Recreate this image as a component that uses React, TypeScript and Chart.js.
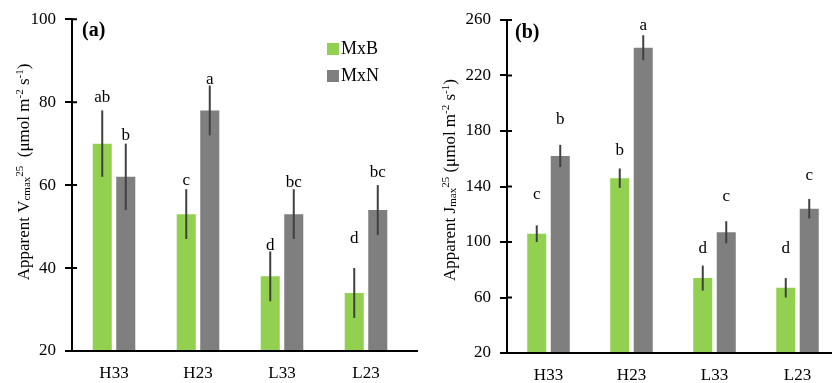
import React, { useEffect, useRef } from "react";
import { Chart, registerables } from "chart.js";

Chart.register(...registerables);

const categories = ["H33", "H23", "L33", "L23"];
const seriesNames = ["MxB", "MxN"];
const seriesColors = ["#92d050", "#7f7f7f"];

const vcmaxMxB = [70, 53, 38, 34];
const vcmaxMxBErr = [8, 6, 6, 6];
const vcmaxMxN = [62, 78, 53, 54];
const vcmaxMxNErr = [8, 6, 6, 6];
const vcmaxMxBLetters = ["ab", "c", "d", "d"];
const vcmaxMxNLetters = ["b", "a", "bc", "bc"];
const vcmaxMxBLetterAt = [81, 61, 45.5, 47];
const vcmaxMxNLetterAt = [72, 85.5, 60.5, 63];
const vcmaxTicks = [20, 40, 60, 80, 100];

const jmaxMxB = [106, 146, 74, 67];
const jmaxMxBErr = [6, 7, 9, 7];
const jmaxMxN = [162, 240, 107, 124];
const jmaxMxNErr = [8, 9, 8, 7];
const jmaxMxBLetters = ["c", "b", "d", "d"];
const jmaxMxNLetters = ["b", "a", "c", "c"];
const jmaxMxBLetterAt = [134, 166, 95, 95.5];
const jmaxMxNLetterAt = [188.5, 256, 133, 148];
const jmaxTicks = [20, 60, 100, 140, 180, 220, 260];

const FONT = "'Liberation Serif', 'Times New Roman', serif";

type Seg = { t: string; k: "n" | "sub" | "sup" };

const vcmaxTitle: Seg[] = [
  { t: "Apparent V", k: "n" },
  { t: "cmax", k: "sub" },
  { t: "25", k: "sup" },
  { t: "  (μmol m", k: "n" },
  { t: "-2", k: "sup" },
  { t: " s", k: "n" },
  { t: "-1", k: "sup" },
  { t: ")", k: "n" },
];
const jmaxTitle: Seg[] = [
  { t: "Apparent J", k: "n" },
  { t: "max", k: "sub" },
  { t: "25", k: "sup" },
  { t: " (μmol m", k: "n" },
  { t: "-2", k: "sup" },
  { t: " s", k: "n" },
  { t: "-1", k: "sup" },
  { t: ")", k: "n" },
];

function drawRotatedTitle(ctx: CanvasRenderingContext2D, segs: Seg[], cx: number, cy: number, size: number) {
  const small = Math.round(size * 0.62);
  ctx.save();
  ctx.translate(cx, cy);
  ctx.rotate(-Math.PI / 2);
  ctx.fillStyle = "#000";
  ctx.textBaseline = "alphabetic";
  ctx.textAlign = "left";
  let total = 0;
  for (const s of segs) {
    ctx.font = `${s.k === "n" ? size : small}px ${FONT}`;
    total += ctx.measureText(s.t).width;
  }
  let x = -total / 2;
  const base = size * 0.33;
  for (const s of segs) {
    ctx.font = `${s.k === "n" ? size : small}px ${FONT}`;
    let y = base;
    if (s.k === "sub") y = base + size * 0.1;
    if (s.k === "sup") y = base - size * 0.33;
    ctx.fillText(s.t, x, y);
    x += ctx.measureText(s.t).width;
  }
  ctx.restore();
}

type PanelProps = {
  left: number;
  mxb: number[];
  mxbErr: number[];
  mxn: number[];
  mxnErr: number[];
  mxbLetters: string[];
  mxnLetters: string[];
  mxbLetterAt: number[];
  mxnLetterAt: number[];
  ticks: number[];
  title: Seg[];
  titleX: number;
  titleY: number;
  axisWidth: number;
  padRight: number;
  padTop: number;
  xHeight: number;
  catPct: number;
  panelLabel: string;
  labelX: number;
  labelY: number;
  axisEnd: number;
  legend: boolean;
};

function Panel(p: PanelProps) {
  const ref = useRef<HTMLCanvasElement | null>(null);
  useEffect(() => {
    if (!ref.current) return;
    const errs = [p.mxbErr, p.mxnErr];
    const letters = [p.mxbLetters, p.mxnLetters];
    const letterAt = [p.mxbLetterAt, p.mxnLetterAt];
    const decor = {
      id: "decor",
      afterDatasetsDraw(chart: any) {
        const ctx: CanvasRenderingContext2D = chart.ctx;
        const ys = chart.scales.y;
        const area = chart.chartArea;
        ctx.save();
        ctx.strokeStyle = "#000";
        ctx.lineWidth = 2;
        // x axis line
        ctx.beginPath();
        ctx.moveTo(area.left - 1, area.bottom);
        ctx.lineTo(p.axisEnd, area.bottom);
        ctx.stroke();
        // inner half of crossing y tick marks
        ctx.beginPath();
        for (const t of p.ticks) {
          const py = ys.getPixelForValue(t);
          ctx.moveTo(area.left, py);
          ctx.lineTo(area.left + 5, py);
        }
        ctx.stroke();
        // error bars and letters
        chart.data.datasets.forEach((ds: any, di: number) => {
          const meta = chart.getDatasetMeta(di);
          meta.data.forEach((el: any, i: number) => {
            const v = ds.data[i];
            const e = errs[di][i];
            ctx.strokeStyle = "#404040";
            ctx.lineWidth = 2;
            ctx.beginPath();
            ctx.moveTo(el.x, ys.getPixelForValue(v + e));
            ctx.lineTo(el.x, ys.getPixelForValue(v - e));
            ctx.stroke();
            ctx.fillStyle = "#000";
            ctx.font = `17px ${FONT}`;
            ctx.textAlign = "center";
            ctx.textBaseline = "middle";
            ctx.fillText(letters[di][i], el.x, ys.getPixelForValue(letterAt[di][i]));
          });
        });
        // panel label
        ctx.font = `bold 20px ${FONT}`;
        ctx.textAlign = "left";
        ctx.textBaseline = "middle";
        ctx.fillStyle = "#000";
        ctx.fillText(p.panelLabel, p.labelX, p.labelY);
        // legend
        if (p.legend) {
          const items = [
            { y: 49, i: 0 },
            { y: 76, i: 1 },
          ];
          for (const it of items) {
            ctx.fillStyle = seriesColors[it.i];
            ctx.fillRect(327, it.y - 6, 12, 12);
            ctx.fillStyle = "#000";
            ctx.font = `18px ${FONT}`;
            ctx.textAlign = "left";
            ctx.textBaseline = "middle";
            ctx.fillText(seriesNames[it.i], 341, it.y);
          }
        }
        // y title
        drawRotatedTitle(ctx, p.title, p.titleX, p.titleY, 17);
        ctx.restore();
      },
    };
    const chart = new Chart(ref.current, {
      type: "bar",
      data: {
        labels: categories,
        datasets: [
          {
            label: seriesNames[0],
            data: p.mxb,
            backgroundColor: seriesColors[0],
            categoryPercentage: p.catPct,
            barPercentage: 0.81,
          },
          {
            label: seriesNames[1],
            data: p.mxn,
            backgroundColor: seriesColors[1],
            categoryPercentage: p.catPct,
            barPercentage: 0.81,
          },
        ],
      },
      options: {
        responsive: false,
        animation: false,
        layout: { padding: { left: 0, right: p.padRight, top: p.padTop, bottom: 0 } },
        plugins: { legend: { display: false }, tooltip: { enabled: false } },
        scales: {
          x: {
            grid: { display: false, drawTicks: false },
            border: { display: false },
            ticks: { color: "#000", font: { family: FONT, size: 17 }, padding: 12 },
            afterFit: (s: any) => {
              s.height = p.xHeight;
            },
          },
          y: {
            min: p.ticks[0],
            max: p.ticks[p.ticks.length - 1],
            afterBuildTicks: (s: any) => {
              s.ticks = p.ticks.map((v) => ({ value: v }));
            },
            grid: { drawOnChartArea: false, drawTicks: true, tickLength: 7, color: "#000", lineWidth: 2 },
            border: { display: true, color: "#000", width: 2 },
            ticks: { color: "#000", font: { family: FONT, size: 17 }, padding: 9 },
            afterFit: (s: any) => {
              s.width = p.axisWidth;
            },
          },
        },
      },
      plugins: [decor],
    });
    return () => chart.destroy();
  }, []);
  return (
    <div style={{ position: "absolute", left: p.left, top: 0, width: 420, height: 383 }}>
      <canvas ref={ref} width={420} height={383} style={{ display: "block" }} />
    </div>
  );
}

export default function App() {
  return (
    <div
      style={{
        position: "absolute",
        left: 0,
        top: 0,
        width: 832,
        height: 383,
        overflow: "hidden",
        background: "#fff",
      }}
    >
      <Panel
        left={0}
        mxb={vcmaxMxB}
        mxbErr={vcmaxMxBErr}
        mxn={vcmaxMxN}
        mxnErr={vcmaxMxNErr}
        mxbLetters={vcmaxMxBLetters}
        mxnLetters={vcmaxMxNLetters}
        mxbLetterAt={vcmaxMxBLetterAt}
        mxnLetterAt={vcmaxMxNLetterAt}
        ticks={vcmaxTicks}
        title={vcmaxTitle}
        titleX={23}
        titleY={172}
        axisWidth={72}
        padRight={12}
        padTop={18}
        xHeight={32}
        catPct={0.56}
        panelLabel="(a)"
        labelX={82}
        labelY={31}
        axisEnd={418}
        legend={true}
      />
      <Panel
        left={420}
        mxb={jmaxMxB}
        mxbErr={jmaxMxBErr}
        mxn={jmaxMxN}
        mxnErr={jmaxMxNErr}
        mxbLetters={jmaxMxBLetters}
        mxnLetters={jmaxMxNLetters}
        mxbLetterAt={jmaxMxBLetterAt}
        mxnLetterAt={jmaxMxNLetterAt}
        ticks={jmaxTicks}
        title={jmaxTitle}
        titleX={29}
        titleY={180}
        axisWidth={87}
        padRight={1}
        padTop={20}
        xHeight={30}
        catPct={0.566}
        panelLabel="(b)"
        labelX={95}
        labelY={33}
        axisEnd={420}
        legend={false}
      />
    </div>
  );
}
